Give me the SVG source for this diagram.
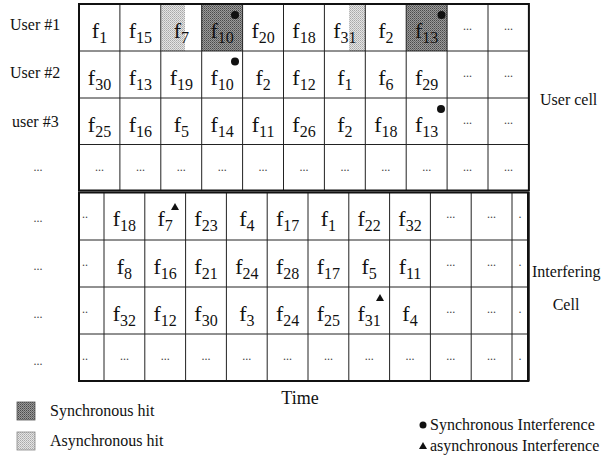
<svg xmlns="http://www.w3.org/2000/svg" width="607" height="462" viewBox="0 0 607 462" font-family="'Liberation Serif','DejaVu Serif','Times New Roman',serif">
<style>
text{font-family:"Liberation Serif","DejaVu Serif","Times New Roman",serif;fill:#111}
.f{font-size:22px;text-anchor:middle}
.s{font-size:16px}
.d{font-size:12px;text-anchor:middle;fill:#444}
.lbl{font-size:16px}
.lg{font-size:16px}
.thin{stroke:#222;stroke-width:1;fill:none}
.thick{stroke:#111;stroke-width:2;fill:none}
</style>
<defs>
<pattern id="pDark" width="2" height="2" patternUnits="userSpaceOnUse">
<rect width="2" height="2" fill="#9a9a9a"/>
<rect width="1" height="1" fill="#4a4a4a"/>
<rect x="1" y="1" width="1" height="1" fill="#6a6a6a"/>
</pattern>
<pattern id="pLight" width="2" height="2" patternUnits="userSpaceOnUse">
<rect width="2" height="2" fill="#e4e4e4"/>
<rect width="1" height="1" fill="#a8a8a8"/>
<rect x="1" y="1" width="1" height="1" fill="#bcbcbc"/>
</pattern>
</defs>
<rect width="607" height="462" fill="#fff"/>

<g id="shading">
<rect x="161.5" y="4" width="23.5" height="47" fill="url(#pLight)"/>
<rect x="201.7" y="4" width="40.9" height="47" fill="url(#pDark)"/>
<rect x="349" y="4" width="16.3" height="47" fill="url(#pLight)"/>
<rect x="406.2" y="4" width="40.9" height="47" fill="url(#pDark)"/>
</g>

<g id="connectors">
<path class="thin" d="M119.9 4V190M160.8 4V190M201.7 4V190M242.6 4V190M283.5 4V190M324.4 4V190M365.3 4V190M406.2 4V190M447.1 4V190M488 4V190M79 51H528.9M79 98H528.9M79 144.5H528.9"/>
<rect class="thick" x="79" y="4" width="449.9" height="186.5"/>
<path class="thin" d="M104 192V381M144.8 192V381M185.6 192V381M226.4 192V381M267.2 192V381M308 192V381M348.8 192V381M389.6 192V381M430.4 192V381M471.2 192V381M512 192V381M79 240H528M79 287H528M79 334H528"/>
<rect class="thick" x="79" y="192.5" width="449" height="188.5"/>
<path d="M528.5 192V381.5" stroke="#111" stroke-width="2.5"/>
</g>

<g id="row-labels">
<text class="lbl" x="10" y="30">User #1</text>
<text class="lbl" x="10" y="78">User #2</text>
<text class="lbl" x="12" y="127">user #3</text>
<text class="d" x="38" y="171">...</text>
<text class="d" x="38" y="222">...</text>
<text class="d" x="38" y="270">...</text>
<text class="d" x="38" y="318">...</text>
<text class="d" x="38" y="365">...</text>
</g>

<g id="user1">
<text class="f" x="99.5" y="38">f<tspan class="s" dy="5">1</tspan></text>
<text class="f" x="140.4" y="38">f<tspan class="s" dy="5">15</tspan></text>
<text class="f" x="181.3" y="38">f<tspan class="s" dy="5">7</tspan></text>
<text class="f" x="222.2" y="38">f<tspan class="s" dy="5">10</tspan></text>
<text class="f" x="263.1" y="38">f<tspan class="s" dy="5">20</tspan></text>
<text class="f" x="304" y="38">f<tspan class="s" dy="5">18</tspan></text>
<text class="f" x="344.9" y="38">f<tspan class="s" dy="5">31</tspan></text>
<text class="f" x="385.8" y="38">f<tspan class="s" dy="5">2</tspan></text>
<text class="f" x="426.7" y="38">f<tspan class="s" dy="5">13</tspan></text>
<text class="d" x="467.6" y="30">...</text>
<text class="d" x="508.5" y="30">...</text>
</g>

<g id="user2">
<text class="f" x="99.5" y="85">f<tspan class="s" dy="5">30</tspan></text>
<text class="f" x="140.4" y="85">f<tspan class="s" dy="5">13</tspan></text>
<text class="f" x="181.3" y="85">f<tspan class="s" dy="5">19</tspan></text>
<text class="f" x="222.2" y="85">f<tspan class="s" dy="5">10</tspan></text>
<text class="f" x="263.1" y="85">f<tspan class="s" dy="5">2</tspan></text>
<text class="f" x="304" y="85">f<tspan class="s" dy="5">12</tspan></text>
<text class="f" x="344.9" y="85">f<tspan class="s" dy="5">1</tspan></text>
<text class="f" x="385.8" y="85">f<tspan class="s" dy="5">6</tspan></text>
<text class="f" x="426.7" y="85">f<tspan class="s" dy="5">29</tspan></text>
<text class="d" x="467.6" y="77">...</text>
<text class="d" x="508.5" y="77">...</text>
</g>

<g id="user3">
<text class="f" x="99.5" y="132">f<tspan class="s" dy="5">25</tspan></text>
<text class="f" x="140.4" y="132">f<tspan class="s" dy="5">16</tspan></text>
<text class="f" x="181.3" y="132">f<tspan class="s" dy="5">5</tspan></text>
<text class="f" x="222.2" y="132">f<tspan class="s" dy="5">14</tspan></text>
<text class="f" x="263.1" y="132">f<tspan class="s" dy="5">11</tspan></text>
<text class="f" x="304" y="132">f<tspan class="s" dy="5">26</tspan></text>
<text class="f" x="344.9" y="132">f<tspan class="s" dy="5">2</tspan></text>
<text class="f" x="385.8" y="132">f<tspan class="s" dy="5">18</tspan></text>
<text class="f" x="426.7" y="132">f<tspan class="s" dy="5">13</tspan></text>
<text class="d" x="467.6" y="124">...</text>
<text class="d" x="508.5" y="124">...</text>
</g>

<g id="user4">
<text class="d" x="99.5" y="171">...</text>
<text class="d" x="140.4" y="171">...</text>
<text class="d" x="181.3" y="171">...</text>
<text class="d" x="222.2" y="171">...</text>
<text class="d" x="263.1" y="171">...</text>
<text class="d" x="304" y="171">...</text>
<text class="d" x="344.9" y="171">...</text>
<text class="d" x="385.8" y="171">...</text>
<text class="d" x="426.7" y="171">...</text>
<text class="d" x="467.6" y="171">...</text>
<text class="d" x="508.5" y="171">...</text>
</g>

<g id="int1">
<text class="d" x="85" y="218">..</text>
<text class="f" x="124.4" y="226">f<tspan class="s" dy="5">18</tspan></text>
<text class="f" x="165.2" y="226">f<tspan class="s" dy="5">7</tspan></text>
<text class="f" x="206" y="226">f<tspan class="s" dy="5">23</tspan></text>
<text class="f" x="246.8" y="226">f<tspan class="s" dy="5">4</tspan></text>
<text class="f" x="287.6" y="226">f<tspan class="s" dy="5">17</tspan></text>
<text class="f" x="328.4" y="226">f<tspan class="s" dy="5">1</tspan></text>
<text class="f" x="369.2" y="226">f<tspan class="s" dy="5">22</tspan></text>
<text class="f" x="410" y="226">f<tspan class="s" dy="5">32</tspan></text>
<text class="d" x="450.8" y="218">...</text>
<text class="d" x="491.6" y="218">...</text>
<text class="d" x="520" y="218">.</text>
</g>

<g id="int2">
<text class="d" x="85" y="266">..</text>
<text class="f" x="124.4" y="274">f<tspan class="s" dy="5">8</tspan></text>
<text class="f" x="165.2" y="274">f<tspan class="s" dy="5">16</tspan></text>
<text class="f" x="206" y="274">f<tspan class="s" dy="5">21</tspan></text>
<text class="f" x="246.8" y="274">f<tspan class="s" dy="5">24</tspan></text>
<text class="f" x="287.6" y="274">f<tspan class="s" dy="5">28</tspan></text>
<text class="f" x="328.4" y="274">f<tspan class="s" dy="5">17</tspan></text>
<text class="f" x="369.2" y="274">f<tspan class="s" dy="5">5</tspan></text>
<text class="f" x="410" y="274">f<tspan class="s" dy="5">11</tspan></text>
<text class="d" x="450.8" y="266">...</text>
<text class="d" x="491.6" y="266">...</text>
<text class="d" x="520" y="266">.</text>
</g>

<g id="int3">
<text class="d" x="85" y="313">..</text>
<text class="f" x="124.4" y="321">f<tspan class="s" dy="5">32</tspan></text>
<text class="f" x="165.2" y="321">f<tspan class="s" dy="5">12</tspan></text>
<text class="f" x="206" y="321">f<tspan class="s" dy="5">30</tspan></text>
<text class="f" x="246.8" y="321">f<tspan class="s" dy="5">3</tspan></text>
<text class="f" x="287.6" y="321">f<tspan class="s" dy="5">24</tspan></text>
<text class="f" x="328.4" y="321">f<tspan class="s" dy="5">25</tspan></text>
<text class="f" x="369.2" y="321">f<tspan class="s" dy="5">31</tspan></text>
<text class="f" x="410" y="321">f<tspan class="s" dy="5">4</tspan></text>
<text class="d" x="450.8" y="313">...</text>
<text class="d" x="491.6" y="313">...</text>
<text class="d" x="520" y="313">.</text>
</g>

<g id="int4">
<text class="d" x="85" y="360">..</text>
<text class="d" x="124.4" y="360">...</text>
<text class="d" x="165.2" y="360">...</text>
<text class="d" x="206" y="360">...</text>
<text class="d" x="246.8" y="360">...</text>
<text class="d" x="287.6" y="360">...</text>
<text class="d" x="328.4" y="360">...</text>
<text class="d" x="369.2" y="360">...</text>
<text class="d" x="410" y="360">...</text>
<text class="d" x="450.8" y="360">...</text>
<text class="d" x="491.6" y="360">...</text>
<text class="d" x="520" y="360">.</text>
</g>

<g id="markers" fill="#111">
<circle cx="235" cy="15" r="4"/>
<circle cx="235" cy="61.5" r="4"/>
<circle cx="441.5" cy="15" r="4"/>
<circle cx="441" cy="109" r="4"/>
<path d="M175 203L179 210H171Z"/>
<path d="M380 294L384 301H376Z"/>
</g>

<g id="side-labels">
<text style="font-size:16px" x="540" y="105">User cell</text>
<text style="font-size:16px" x="532" y="277">Interfering</text>
<text style="font-size:16px" x="566" y="310" text-anchor="middle">Cell</text>
<text style="font-size:18px" x="300" y="404" text-anchor="middle">Time</text>
</g>

<g id="legend-sync-hit">
<rect x="17" y="402" width="18" height="18" fill="url(#pDark)" stroke="#555" stroke-width="0.8"/>
<text class="lg" x="50" y="416">Synchronous hit</text>
</g>
<g id="legend-async-hit">
<rect x="17" y="432" width="18" height="18" fill="url(#pLight)" stroke="#888" stroke-width="0.8"/>
<text class="lg" x="50" y="446">Asynchronous hit</text>
</g>
<g id="legend-sync-int">
<circle cx="423" cy="425" r="3.5" fill="#111"/>
<text class="lg" x="430" y="430">Synchronous Interference</text>
</g>
<g id="legend-async-int">
<path d="M423 442L427 449H419Z" fill="#111"/>
<text class="lg" x="430" y="451">asynchronous Interference</text>
</g>
</svg>
